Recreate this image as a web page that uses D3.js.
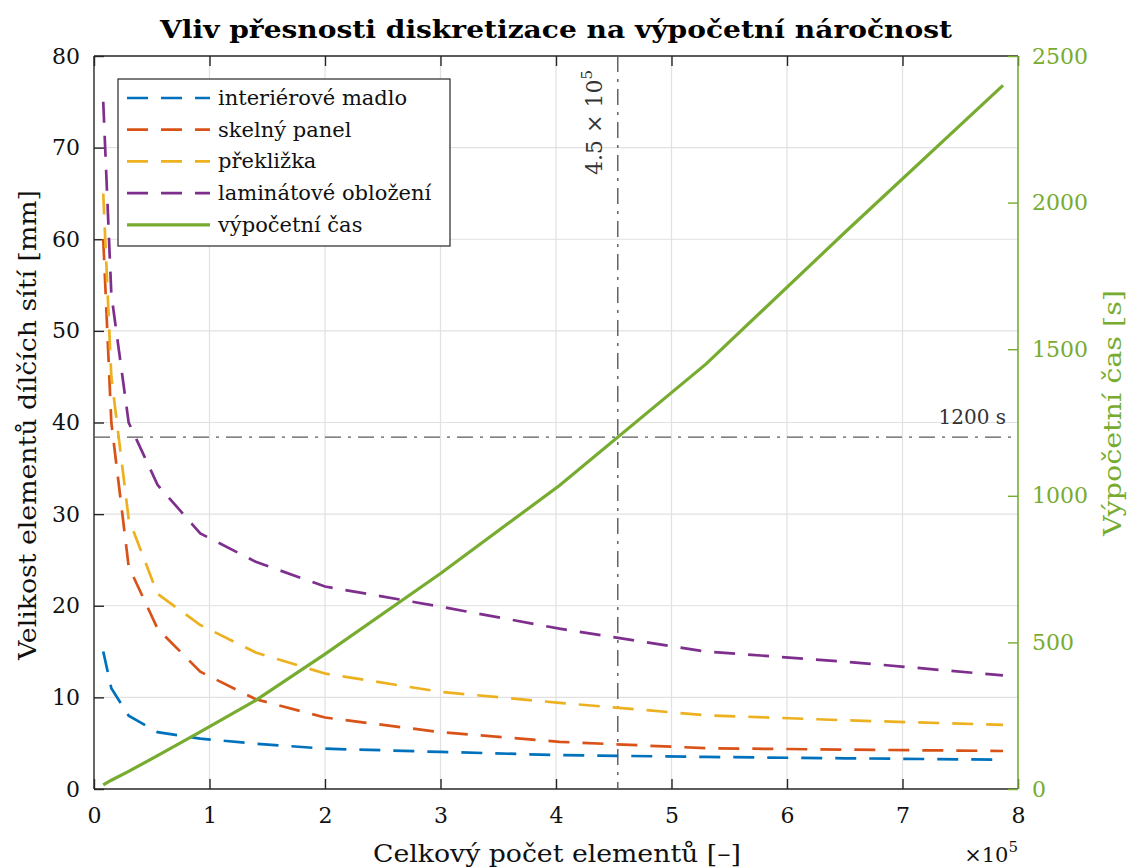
<!DOCTYPE html>
<html>
<head>
<meta charset="utf-8">
<script src="https://cdn.jsdelivr.net/npm/d3@7"></script>
<style>
  html, body { margin: 0; padding: 0; background: #fff; }
</style>
</head>
<body>
<svg id="chart" width="1133" height="868"></svg>
<script>
// Total element count of the assembled mesh
const elementCount = [8000, 15000, 30000, 55000, 92000, 140000, 200000, 300000, 403000, 530000, 650000, 787000];

// Element size of each sub-mesh [mm]
const madlo      = [15.0, 11.0, 8.0, 6.2, 5.5, 4.95, 4.4, 4.05, 3.7, 3.5, 3.35, 3.2];
const sklo       = [60.0, 40.0, 24.3, 17.5, 12.8, 9.8, 7.8, 6.2, 5.15, 4.45, 4.3, 4.15];
const preklizka  = [65.0, 45.0, 29.5, 21.3, 17.9, 14.9, 12.6, 10.6, 9.4, 8.05, 7.5, 7.0];
const laminat    = [75.0, 54.0, 40.0, 33.2, 27.9, 24.8, 22.1, 19.9, 17.5, 15.0, 13.9, 12.4];

// Computation time [s]
const vypocetniCas = [14, 30, 60, 114, 195, 302, 460, 735, 1035, 1450, 1898, 2400];

const seriesNames  = ["interiérové madlo", "skelný panel", "překližka", "laminátové obložení"];
const seriesColors = ["#0072BD", "#D95319", "#EDB120", "#7E2F8E"];
const timeName  = "výpočetní čas";
const timeColor = "#77AC30";

const leftTicks  = [0, 10, 20, 30, 40, 50, 60, 70, 80];
const rightTicks = [0, 500, 1000, 1500, 2000, 2500];
const xTicks     = [0, 100000, 200000, 300000, 400000, 500000, 600000, 700000, 800000];
const timeLimit  = 1200;

const titleText   = "Vliv přesnosti diskretizace na výpočetní náročnost";
const xLabelText  = "Celkový počet elementů [–]";
const yLabelText  = "Velikost elementů dílčích sítí [mm]";
const y2LabelText = "Výpočetní čas [s]";

const FONT = '"DejaVu Serif", "Liberation Serif", serif';

const svg = d3.select("#chart");
const m = { left: 94, right: 1018, top: 56, bottom: 789 };

const x  = d3.scaleLinear().domain([0, 800000]).range([m.left, m.right]);
const y  = d3.scaleLinear().domain([0, 80]).range([m.bottom, m.top]);
const y2 = d3.scaleLinear().domain([0, 2500]).range([m.bottom, m.top]);

const axisColor = "#262626";
const tickFont = 22;

// grid
const grid = svg.append("g");
grid.selectAll(".gx").data(xTicks.slice(1, -1)).join("line")
  .attr("x1", d => x(d)).attr("x2", d => x(d))
  .attr("y1", m.top).attr("y2", m.bottom)
  .attr("stroke", "#e1e1e1").attr("stroke-width", 1.2);
grid.selectAll(".gy").data(leftTicks.slice(1, -1)).join("line")
  .attr("x1", m.left).attr("x2", m.right)
  .attr("y1", d => y(d)).attr("y2", d => y(d))
  .attr("stroke", "#e1e1e1").attr("stroke-width", 1.2);

// axes (ticks pointing inward, box on)
const tickLen = 10;
const axB = svg.append("g").attr("transform", `translate(0,${m.bottom})`)
  .call(d3.axisBottom(x).tickValues(xTicks).tickSize(-tickLen).tickPadding(18)
        .tickFormat(d => d / 1e5));
const axT = svg.append("g").attr("transform", `translate(0,${m.top})`)
  .call(d3.axisTop(x).tickValues(xTicks).tickSize(-tickLen).tickFormat(""));
const axL = svg.append("g").attr("transform", `translate(${m.left},0)`)
  .call(d3.axisLeft(y).tickValues(leftTicks).tickSize(-tickLen).tickPadding(14));
const axR = svg.append("g").attr("transform", `translate(${m.right},0)`)
  .call(d3.axisRight(y2).tickValues(rightTicks).tickSize(-tickLen).tickPadding(14)
        .tickFormat(d3.format("d")));

[axB, axT, axL, axR].forEach(a => a.attr("font-family", FONT).attr("font-size", tickFont));
[axB, axT, axL].forEach(a => {
  a.select(".domain").attr("stroke", axisColor).attr("stroke-width", 1.4);
  a.selectAll(".tick line").attr("stroke", axisColor).attr("stroke-width", 1.4);
  a.selectAll(".tick text").attr("fill", "#111");
});
axB.selectAll(".tick text").attr("dy", "0.71em");
axR.select(".domain").attr("stroke", timeColor).attr("stroke-width", 1.6);
axR.selectAll(".tick line").attr("stroke", timeColor).attr("stroke-width", 1.4);
axR.selectAll(".tick text").attr("fill", timeColor);
axB.select(".domain").attr("d", `M${m.left},0H${m.right}`);
axT.select(".domain").attr("d", `M${m.left},0H${m.right}`);
axL.select(".domain").attr("d", `M0,${m.bottom}V${m.top}`);
axR.select(".domain").attr("d", `M0,${m.bottom}V${m.top}`);

// clip
svg.append("defs").append("clipPath").attr("id", "plot")
  .append("rect").attr("x", m.left).attr("y", m.top)
  .attr("width", m.right - m.left).attr("height", m.bottom - m.top);

const plot = svg.append("g").attr("clip-path", "url(#plot)");

// reference lines: time limit and the element count where the time curve reaches it
let crossX = null;
for (let i = 1; i < elementCount.length; i++) {
  const t0 = vypocetniCas[i - 1], t1 = vypocetniCas[i];
  if (t0 <= timeLimit && t1 >= timeLimit) {
    crossX = elementCount[i - 1] + (timeLimit - t0) / (t1 - t0) * (elementCount[i] - elementCount[i - 1]);
    break;
  }
}
const refDash = "16,7,3,7";
plot.append("line")
  .attr("x1", m.left).attr("x2", m.right)
  .attr("y1", y2(timeLimit)).attr("y2", y2(timeLimit))
  .attr("stroke", "#5a5a5a").attr("stroke-width", 1.4).attr("stroke-dasharray", refDash);
plot.append("line")
  .attr("x1", x(crossX)).attr("x2", x(crossX))
  .attr("y1", m.top).attr("y2", m.bottom)
  .attr("stroke", "#5a5a5a").attr("stroke-width", 1.4).attr("stroke-dasharray", refDash);

// dashed element-size curves
const sizeSeries = [madlo, sklo, preklizka, laminat];
const lineL = d3.line().x((d, i) => x(elementCount[i])).y(d => y(d));
sizeSeries.forEach((s, k) => {
  plot.append("path").datum(s)
    .attr("d", lineL).attr("fill", "none")
    .attr("stroke", seriesColors[k]).attr("stroke-width", 2.7)
    .attr("stroke-dasharray", "21,13");
});

// computation time curve
const lineR = d3.line().x((d, i) => x(elementCount[i])).y(d => y2(d));
plot.append("path").datum(vypocetniCas)
  .attr("d", lineR).attr("fill", "none")
  .attr("stroke", timeColor).attr("stroke-width", 3.2);

// reference labels
svg.append("text")
  .attr("x", 1006).attr("y", y2(timeLimit) - 13)
  .attr("text-anchor", "end").attr("font-size", 20).attr("fill", "#333")
  .attr("font-family", FONT)
  .text(`${timeLimit} s`);

const crossLabel = svg.append("text")
  .attr("transform", `translate(${x(crossX) - 16},70) rotate(-90)`)
  .attr("text-anchor", "end").attr("font-size", 22).attr("fill", "#333")
  .attr("font-family", FONT);
crossLabel.append("tspan").text(`${(crossX / 1e5).toFixed(1)} × 10`);
crossLabel.append("tspan").attr("font-size", 15).attr("dy", -10).text("5");

// title
svg.append("text")
  .attr("x", 556).attr("y", 38).attr("text-anchor", "middle")
  .attr("font-size", 24).attr("font-weight", "bold").attr("fill", "#000")
  .attr("font-family", FONT)
  .attr("textLength", 792).attr("lengthAdjust", "spacingAndGlyphs")
  .text(titleText);

// axis labels
svg.append("text")
  .attr("x", 557).attr("y", 862).attr("text-anchor", "middle")
  .attr("font-size", 24).attr("fill", "#111").attr("font-family", FONT)
  .attr("textLength", 368).attr("lengthAdjust", "spacingAndGlyphs")
  .text(xLabelText);

const mult = svg.append("text").attr("x", 1018).attr("y", 862)
  .attr("text-anchor", "end").attr("font-size", 21).attr("fill", "#111")
  .attr("font-family", FONT);
mult.append("tspan").text("×10");
mult.append("tspan").attr("font-size", 15).attr("dy", -10).text("5");

svg.append("text")
  .attr("transform", `translate(36,425) rotate(-90)`)
  .attr("text-anchor", "middle").attr("font-size", 24).attr("fill", "#111")
  .attr("font-family", FONT)
  .attr("textLength", 470).attr("lengthAdjust", "spacingAndGlyphs")
  .text(yLabelText);

svg.append("text")
  .attr("transform", `translate(1121,413) rotate(-90)`)
  .attr("text-anchor", "middle").attr("font-size", 24).attr("fill", timeColor)
  .attr("font-family", FONT)
  .attr("textLength", 246).attr("lengthAdjust", "spacingAndGlyphs")
  .text(y2LabelText);

// legend
const leg = svg.append("g");
leg.append("rect").attr("x", 118).attr("y", 79).attr("width", 332).attr("height", 167)
  .attr("fill", "#fff").attr("stroke", "#262626").attr("stroke-width", 1.2);
const legItems = seriesNames.map((n, i) => ({ name: n, color: seriesColors[i], dash: "21,13", w: 2.7 }))
  .concat([{ name: timeName, color: timeColor, dash: null, w: 3.2 }]);
legItems.forEach((it, i) => {
  const yy = 98 + i * 31.7;
  leg.append("line").attr("x1", 127).attr("x2", 210).attr("y1", yy).attr("y2", yy)
    .attr("stroke", it.color).attr("stroke-width", it.w)
    .attr("stroke-dasharray", it.dash);
  leg.append("text").attr("x", 218).attr("y", yy + 7)
    .attr("font-size", 21).attr("fill", "#111").attr("font-family", FONT)
    .text(it.name);
});
</script>
</body>
</html>
